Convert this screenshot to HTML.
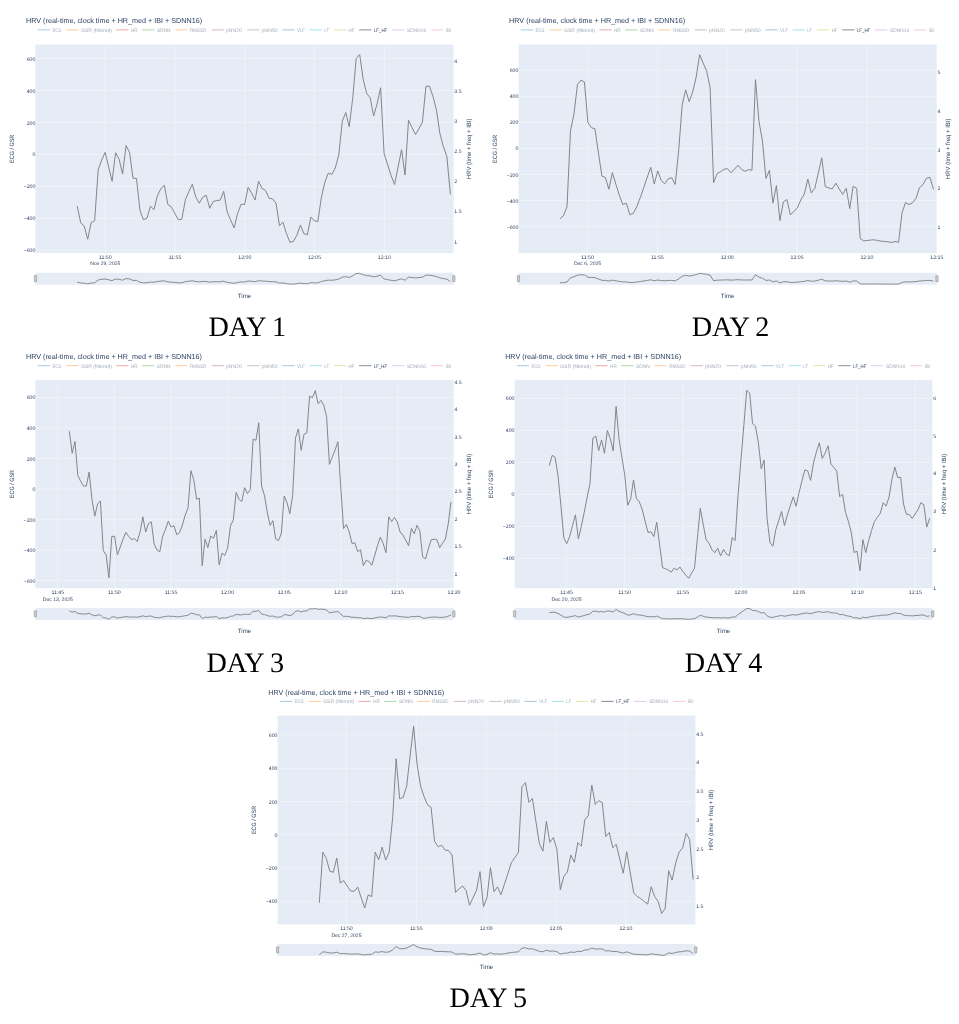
<!DOCTYPE html>
<html lang="en"><head><meta charset="utf-8"><title>HRV Day 1-5</title>
<style>html,body{margin:0;padding:0;background:#fff}body{width:959px;height:1024px;overflow:hidden}svg{display:block}</style></head>
<body>
<svg width="959" height="1024" viewBox="0 0 959 1024" text-rendering="geometricPrecision" font-family='"Liberation Sans", sans-serif' fill="#2a3f5f">
<rect x="0" y="0" width="959" height="1024" fill="#ffffff"/>
<g>
<text x="26.05" y="23" font-size="7.2" textLength="176" lengthAdjust="spacingAndGlyphs">HRV (real-time, clock time + HR_med + IBI + SDNN16)</text>
<line x1="37.8" y1="29.9" x2="50" y2="29.9" stroke="#1f77b4" stroke-width="0.9" opacity="0.45"/>
<text x="52.5" y="31.7" font-size="5" textLength="9" lengthAdjust="spacingAndGlyphs" opacity="0.45">ECG</text>
<line x1="66.55" y1="29.9" x2="78.75" y2="29.9" stroke="#ff7f0e" stroke-width="0.9" opacity="0.45"/>
<text x="81" y="31.7" font-size="5" textLength="31" lengthAdjust="spacingAndGlyphs" opacity="0.45">GSR (filtered)</text>
<line x1="116.3" y1="29.9" x2="128.5" y2="29.9" stroke="#d62728" stroke-width="0.9" opacity="0.45"/>
<text x="131" y="31.7" font-size="5" textLength="6.6" lengthAdjust="spacingAndGlyphs" opacity="0.45">HR</text>
<line x1="142.2" y1="29.9" x2="154.4" y2="29.9" stroke="#2ca02c" stroke-width="0.9" opacity="0.45"/>
<text x="156.9" y="31.7" font-size="5" textLength="13.7" lengthAdjust="spacingAndGlyphs" opacity="0.45">SDNN</text>
<line x1="175.4" y1="29.9" x2="187.6" y2="29.9" stroke="#ff7f0e" stroke-width="0.9" opacity="0.45"/>
<text x="190.1" y="31.7" font-size="5" textLength="16.2" lengthAdjust="spacingAndGlyphs" opacity="0.45">RMSSD</text>
<line x1="211.7" y1="29.9" x2="223.9" y2="29.9" stroke="#8c564b" stroke-width="0.9" opacity="0.45"/>
<text x="226" y="31.7" font-size="5" textLength="15.9" lengthAdjust="spacingAndGlyphs" opacity="0.45">pNN20</text>
<line x1="247.3" y1="29.9" x2="259.5" y2="29.9" stroke="#7f6a66" stroke-width="0.9" opacity="0.45"/>
<text x="261.7" y="31.7" font-size="5" textLength="15.9" lengthAdjust="spacingAndGlyphs" opacity="0.45">pNN50</text>
<line x1="282.4" y1="29.9" x2="294.6" y2="29.9" stroke="#1f77b4" stroke-width="0.9" opacity="0.45"/>
<text x="297" y="31.7" font-size="5" textLength="8" lengthAdjust="spacingAndGlyphs" opacity="0.45">VLF</text>
<line x1="309.6" y1="29.9" x2="321.8" y2="29.9" stroke="#17becf" stroke-width="0.9" opacity="0.45"/>
<text x="324.2" y="31.7" font-size="5" textLength="4.8" lengthAdjust="spacingAndGlyphs" opacity="0.45">LF</text>
<line x1="333.9" y1="29.9" x2="346.1" y2="29.9" stroke="#bcbd22" stroke-width="0.9" opacity="0.45"/>
<text x="348.6" y="31.7" font-size="5" textLength="5.8" lengthAdjust="spacingAndGlyphs" opacity="0.45">HF</text>
<line x1="359.2" y1="29.9" x2="371.4" y2="29.9" stroke="#7f7f7f" stroke-width="0.9" opacity="1"/>
<text x="373.9" y="31.7" font-size="5" textLength="13.3" lengthAdjust="spacingAndGlyphs" opacity="1">LF_HF</text>
<line x1="392" y1="29.9" x2="404.2" y2="29.9" stroke="#b07fd8" stroke-width="0.9" opacity="0.45"/>
<text x="407" y="31.7" font-size="5" textLength="19.1" lengthAdjust="spacingAndGlyphs" opacity="0.45">SDNN16</text>
<line x1="431.1" y1="29.9" x2="443.3" y2="29.9" stroke="#f070b8" stroke-width="0.9" opacity="0.45"/>
<text x="445.8" y="31.7" font-size="5" textLength="5.1" lengthAdjust="spacingAndGlyphs" opacity="0.45">IBI</text>
<rect x="35.45" y="44.5" width="418.1" height="208.65" fill="#e5ecf6"/>
<line x1="35.45" y1="58.5" x2="453.55" y2="58.5" stroke="#fff" stroke-width="0.4"/>
<text x="35.35" y="60.5" font-size="5.2" text-anchor="end">600</text>
<line x1="35.45" y1="90.5" x2="453.55" y2="90.5" stroke="#fff" stroke-width="0.4"/>
<text x="35.35" y="92.5" font-size="5.2" text-anchor="end">400</text>
<line x1="35.45" y1="122.5" x2="453.55" y2="122.5" stroke="#fff" stroke-width="0.4"/>
<text x="35.35" y="124.5" font-size="5.2" text-anchor="end">200</text>
<line x1="35.45" y1="154.4" x2="453.55" y2="154.4" stroke="#fff" stroke-width="0.4"/>
<text x="35.35" y="156.4" font-size="5.2" text-anchor="end">0</text>
<line x1="35.45" y1="186.4" x2="453.55" y2="186.4" stroke="#fff" stroke-width="0.4"/>
<text x="35.35" y="188.4" font-size="5.2" text-anchor="end">−200</text>
<line x1="35.45" y1="218.4" x2="453.55" y2="218.4" stroke="#fff" stroke-width="0.4"/>
<text x="35.35" y="220.4" font-size="5.2" text-anchor="end">−400</text>
<line x1="35.45" y1="250.4" x2="453.55" y2="250.4" stroke="#fff" stroke-width="0.4"/>
<text x="35.35" y="252.4" font-size="5.2" text-anchor="end">−600</text>
<line x1="105.35" y1="44.5" x2="105.35" y2="253.15" stroke="#fff" stroke-width="0.4"/>
<text x="105.35" y="259" font-size="5.2" text-anchor="middle">11:50</text>
<text x="105.35" y="264.9" font-size="5.05" text-anchor="middle">Nov 29, 2025</text>
<line x1="175.1" y1="44.5" x2="175.1" y2="253.15" stroke="#fff" stroke-width="0.4"/>
<text x="175.1" y="259" font-size="5.2" text-anchor="middle">11:55</text>
<line x1="244.85" y1="44.5" x2="244.85" y2="253.15" stroke="#fff" stroke-width="0.4"/>
<text x="244.85" y="259" font-size="5.2" text-anchor="middle">12:00</text>
<line x1="314.6" y1="44.5" x2="314.6" y2="253.15" stroke="#fff" stroke-width="0.4"/>
<text x="314.6" y="259" font-size="5.2" text-anchor="middle">12:05</text>
<line x1="384.35" y1="44.5" x2="384.35" y2="253.15" stroke="#fff" stroke-width="0.4"/>
<text x="384.35" y="259" font-size="5.2" text-anchor="middle">12:10</text>
<text x="454.35" y="62.5" font-size="5.2">4</text>
<text x="454.35" y="93.1" font-size="5.2">3.5</text>
<text x="454.35" y="123.1" font-size="5.2">3</text>
<text x="454.35" y="153.2" font-size="5.2">2.5</text>
<text x="454.35" y="183.3" font-size="5.2">2</text>
<text x="454.35" y="213.4" font-size="5.2">1.5</text>
<text x="454.35" y="243.9" font-size="5.2">1</text>
<text transform="translate(13.9,148.82) rotate(-90)" font-size="6.2" text-anchor="middle" textLength="28.2" lengthAdjust="spacingAndGlyphs">ECG / GSR</text>
<text transform="translate(470.8,148.82) rotate(-90)" font-size="6.2" text-anchor="middle" textLength="60.5" lengthAdjust="spacingAndGlyphs">HRV (time + freq + IBI)</text>
<polyline points="77.23,206.18 80.72,222.86 84.21,225.97 87.69,239.26 91.18,222.59 94.67,220.82 98.16,169.99 101.64,160.09 105.13,152.37 108.62,166.87 112.1,181.24 115.59,152.77 119.08,159.14 122.57,174.06 126.05,145.59 129.54,152.37 133.03,178.12 136.51,178.53 140,210.66 143.49,219.74 146.98,218.11 150.46,206.18 153.95,209.71 157.44,195.75 160.92,188.56 164.41,185.31 167.9,204.56 171.39,207 174.87,213.37 178.36,219.87 181.85,219.2 185.33,199.81 188.82,191.68 192.31,184.22 195.8,197.1 199.28,203.2 202.77,197.1 206.26,195.34 209.74,208.35 213.23,201.57 216.72,200.49 220.21,200.22 223.69,191.27 227.18,212.01 230.67,220.15 234.15,227.87 237.64,213.37 241.13,204.15 244.62,204.56 248.1,187.21 251.59,193.03 255.08,200.08 258.56,181.24 262.05,188.56 265.54,190.32 269.03,198.19 272.51,198.86 276,203.2 279.49,225.57 282.97,222.18 286.46,233.7 289.95,242.24 293.44,241.43 296.92,235.06 300.41,225.16 303.9,233.7 307.38,234.65 310.87,217.03 314.36,220.82 317.85,221.5 321.33,197.78 324.82,182.19 328.31,173.11 331.79,174.46 335.28,167.96 338.77,154.95 342.26,121.33 345.74,112.52 349.23,126.76 352.72,98.29 356.2,58.3 359.69,54.64 363.18,79.31 366.67,93.55 370.15,97.61 373.64,115.91 377.13,103.71 380.61,87.72 384.1,153.46 387.59,164.57 391.07,175.41 394.56,184.49 398.05,167.28 401.54,149.66 405.02,175.01 408.51,120.25 412,127.43 415.48,134.48 418.97,128.79 422.46,122.01 425.95,86.36 429.43,86.09 432.92,96.26 436.41,109.81 439.89,133.53 443.38,146.55 446.87,156.44 450.36,194.39" fill="none" stroke="#7f7f7f" stroke-width="0.95" stroke-linejoin="round"/>
<rect x="35.45" y="272.75" width="418.1" height="12" fill="#e5ecf6"/>
<polyline points="77.23,282.05 80.72,283.01 84.21,283.19 87.69,283.95 91.18,282.99 94.67,282.89 98.16,279.97 101.64,279.4 105.13,278.95 108.62,279.79 112.1,280.61 115.59,278.98 119.08,279.34 122.57,280.2 126.05,278.56 129.54,278.95 133.03,280.43 136.51,280.46 140,282.31 143.49,282.83 146.98,282.73 150.46,282.05 153.95,282.25 157.44,281.45 160.92,281.04 164.41,280.85 167.9,281.96 171.39,282.1 174.87,282.46 178.36,282.84 181.85,282.8 185.33,281.68 188.82,281.21 192.31,280.79 195.8,281.53 199.28,281.88 202.77,281.53 206.26,281.43 209.74,282.17 213.23,281.78 216.72,281.72 220.21,281.71 223.69,281.19 227.18,282.38 230.67,282.85 234.15,283.3 237.64,282.46 241.13,281.93 244.62,281.96 248.1,280.96 251.59,281.29 255.08,281.7 258.56,280.61 262.05,281.04 265.54,281.14 269.03,281.59 272.51,281.63 276,281.88 279.49,283.16 282.97,282.97 286.46,283.63 289.95,284.12 293.44,284.08 296.92,283.71 300.41,283.14 303.9,283.63 307.38,283.69 310.87,282.67 314.36,282.89 317.85,282.93 321.33,281.57 324.82,280.67 328.31,280.15 331.79,280.22 335.28,279.85 338.77,279.1 342.26,277.17 345.74,276.66 349.23,277.48 352.72,275.84 356.2,273.54 359.69,273.33 363.18,274.75 366.67,275.57 370.15,275.8 373.64,276.86 377.13,276.16 380.61,275.24 384.1,279.02 387.59,279.66 391.07,280.28 394.56,280.8 398.05,279.81 401.54,278.8 405.02,280.26 408.51,277.11 412,277.52 415.48,277.92 418.97,277.6 422.46,277.21 425.95,275.16 429.43,275.14 432.92,275.73 436.41,276.51 439.89,277.87 443.38,278.62 446.87,279.19 450.36,281.37" fill="none" stroke="#7f7f7f" stroke-width="0.9" stroke-linejoin="round"/>
<rect x="34.35" y="275.6" width="2.2" height="6.2" rx="0.4" fill="#d4d4d4" stroke="#888" stroke-width="0.6"/>
<rect x="452.75" y="275.6" width="2.2" height="6.2" rx="0.4" fill="#d4d4d4" stroke="#888" stroke-width="0.6"/>
<text x="244.5" y="297.9" font-size="6.2" text-anchor="middle">Time</text>
<text x="208.6" y="335.8" font-family='"Liberation Serif", serif' font-size="28.2" letter-spacing="-0.25" fill="#000">DAY 1</text>
</g>
<g>
<text x="509.1" y="23" font-size="7.2" textLength="176" lengthAdjust="spacingAndGlyphs">HRV (real-time, clock time + HR_med + IBI + SDNN16)</text>
<line x1="520.85" y1="29.9" x2="533.05" y2="29.9" stroke="#1f77b4" stroke-width="0.9" opacity="0.45"/>
<text x="535.55" y="31.7" font-size="5" textLength="9" lengthAdjust="spacingAndGlyphs" opacity="0.45">ECG</text>
<line x1="549.6" y1="29.9" x2="561.8" y2="29.9" stroke="#ff7f0e" stroke-width="0.9" opacity="0.45"/>
<text x="564.05" y="31.7" font-size="5" textLength="31" lengthAdjust="spacingAndGlyphs" opacity="0.45">GSR (filtered)</text>
<line x1="599.35" y1="29.9" x2="611.55" y2="29.9" stroke="#d62728" stroke-width="0.9" opacity="0.45"/>
<text x="614.05" y="31.7" font-size="5" textLength="6.6" lengthAdjust="spacingAndGlyphs" opacity="0.45">HR</text>
<line x1="625.25" y1="29.9" x2="637.45" y2="29.9" stroke="#2ca02c" stroke-width="0.9" opacity="0.45"/>
<text x="639.95" y="31.7" font-size="5" textLength="13.7" lengthAdjust="spacingAndGlyphs" opacity="0.45">SDNN</text>
<line x1="658.45" y1="29.9" x2="670.65" y2="29.9" stroke="#ff7f0e" stroke-width="0.9" opacity="0.45"/>
<text x="673.15" y="31.7" font-size="5" textLength="16.2" lengthAdjust="spacingAndGlyphs" opacity="0.45">RMSSD</text>
<line x1="694.75" y1="29.9" x2="706.95" y2="29.9" stroke="#8c564b" stroke-width="0.9" opacity="0.45"/>
<text x="709.05" y="31.7" font-size="5" textLength="15.9" lengthAdjust="spacingAndGlyphs" opacity="0.45">pNN20</text>
<line x1="730.35" y1="29.9" x2="742.55" y2="29.9" stroke="#7f6a66" stroke-width="0.9" opacity="0.45"/>
<text x="744.75" y="31.7" font-size="5" textLength="15.9" lengthAdjust="spacingAndGlyphs" opacity="0.45">pNN50</text>
<line x1="765.45" y1="29.9" x2="777.65" y2="29.9" stroke="#1f77b4" stroke-width="0.9" opacity="0.45"/>
<text x="780.05" y="31.7" font-size="5" textLength="8" lengthAdjust="spacingAndGlyphs" opacity="0.45">VLF</text>
<line x1="792.65" y1="29.9" x2="804.85" y2="29.9" stroke="#17becf" stroke-width="0.9" opacity="0.45"/>
<text x="807.25" y="31.7" font-size="5" textLength="4.8" lengthAdjust="spacingAndGlyphs" opacity="0.45">LF</text>
<line x1="816.95" y1="29.9" x2="829.15" y2="29.9" stroke="#bcbd22" stroke-width="0.9" opacity="0.45"/>
<text x="831.65" y="31.7" font-size="5" textLength="5.8" lengthAdjust="spacingAndGlyphs" opacity="0.45">HF</text>
<line x1="842.25" y1="29.9" x2="854.45" y2="29.9" stroke="#7f7f7f" stroke-width="0.9" opacity="1"/>
<text x="856.95" y="31.7" font-size="5" textLength="13.3" lengthAdjust="spacingAndGlyphs" opacity="1">LF_HF</text>
<line x1="875.05" y1="29.9" x2="887.25" y2="29.9" stroke="#b07fd8" stroke-width="0.9" opacity="0.45"/>
<text x="890.05" y="31.7" font-size="5" textLength="19.1" lengthAdjust="spacingAndGlyphs" opacity="0.45">SDNN16</text>
<line x1="914.15" y1="29.9" x2="926.35" y2="29.9" stroke="#f070b8" stroke-width="0.9" opacity="0.45"/>
<text x="928.85" y="31.7" font-size="5" textLength="5.1" lengthAdjust="spacingAndGlyphs" opacity="0.45">IBI</text>
<rect x="518.5" y="44.5" width="418.2" height="208.65" fill="#e5ecf6"/>
<line x1="518.5" y1="70.3" x2="936.7" y2="70.3" stroke="#fff" stroke-width="0.4"/>
<text x="518.4" y="72.3" font-size="5.2" text-anchor="end">600</text>
<line x1="518.5" y1="96.3" x2="936.7" y2="96.3" stroke="#fff" stroke-width="0.4"/>
<text x="518.4" y="98.3" font-size="5.2" text-anchor="end">400</text>
<line x1="518.5" y1="122.3" x2="936.7" y2="122.3" stroke="#fff" stroke-width="0.4"/>
<text x="518.4" y="124.3" font-size="5.2" text-anchor="end">200</text>
<line x1="518.5" y1="148.4" x2="936.7" y2="148.4" stroke="#fff" stroke-width="0.4"/>
<text x="518.4" y="150.4" font-size="5.2" text-anchor="end">0</text>
<line x1="518.5" y1="174.5" x2="936.7" y2="174.5" stroke="#fff" stroke-width="0.4"/>
<text x="518.4" y="176.5" font-size="5.2" text-anchor="end">−200</text>
<line x1="518.5" y1="200.6" x2="936.7" y2="200.6" stroke="#fff" stroke-width="0.4"/>
<text x="518.4" y="202.6" font-size="5.2" text-anchor="end">−400</text>
<line x1="518.5" y1="226.7" x2="936.7" y2="226.7" stroke="#fff" stroke-width="0.4"/>
<text x="518.4" y="228.7" font-size="5.2" text-anchor="end">−600</text>
<line x1="587.5" y1="44.5" x2="587.5" y2="253.15" stroke="#fff" stroke-width="0.4"/>
<text x="587.5" y="259" font-size="5.2" text-anchor="middle">11:50</text>
<text x="587.5" y="264.9" font-size="5.05" text-anchor="middle">Dec 6, 2025</text>
<line x1="657.4" y1="44.5" x2="657.4" y2="253.15" stroke="#fff" stroke-width="0.4"/>
<text x="657.4" y="259" font-size="5.2" text-anchor="middle">11:55</text>
<line x1="727.2" y1="44.5" x2="727.2" y2="253.15" stroke="#fff" stroke-width="0.4"/>
<text x="727.2" y="259" font-size="5.2" text-anchor="middle">12:00</text>
<line x1="797.1" y1="44.5" x2="797.1" y2="253.15" stroke="#fff" stroke-width="0.4"/>
<text x="797.1" y="259" font-size="5.2" text-anchor="middle">12:05</text>
<line x1="866.9" y1="44.5" x2="866.9" y2="253.15" stroke="#fff" stroke-width="0.4"/>
<text x="866.9" y="259" font-size="5.2" text-anchor="middle">12:10</text>
<text x="936.8" y="259" font-size="5.2" text-anchor="middle">12:15</text>
<text x="937.5" y="74.3" font-size="5.2">5</text>
<text x="937.5" y="112.9" font-size="5.2">4</text>
<text x="937.5" y="151.5" font-size="5.2">3</text>
<text x="937.5" y="190.2" font-size="5.2">2</text>
<text x="937.5" y="228.8" font-size="5.2">1</text>
<text transform="translate(496.95,148.82) rotate(-90)" font-size="6.2" text-anchor="middle" textLength="28.2" lengthAdjust="spacingAndGlyphs">ECG / GSR</text>
<text transform="translate(949.7,148.82) rotate(-90)" font-size="6.2" text-anchor="middle" textLength="60.5" lengthAdjust="spacingAndGlyphs">HRV (time + freq + IBI)</text>
<polyline points="560.02,218.79 563.51,215.67 567,206.59 570.49,130.82 573.98,113.88 577.47,84.46 580.96,80.13 584.45,82.02 587.94,122.69 591.43,127.71 594.92,128.79 598.41,152.77 601.9,176.09 605.39,177.45 608.88,189.24 612.37,172.7 615.86,184.22 619.35,195.34 622.84,204.56 626.33,203.2 629.82,214.72 633.31,213.37 636.8,206.59 640.29,197.51 643.78,187.61 647.27,177.17 650.76,167.28 654.25,183.95 657.74,170.94 661.23,180.43 664.72,183.82 668.21,178.8 671.71,177.72 675.2,184.49 678.69,150.33 682.18,105.07 685.67,89.89 689.16,101.68 692.65,92.19 696.14,77.28 699.63,54.64 703.12,63.04 706.61,70.91 710.1,87.45 713.59,182.6 717.08,173.65 720.57,171.75 724.06,169.31 727.55,168.63 731.04,172.7 734.53,169.04 738.02,165.25 741.51,169.31 745,171.35 748.49,169.58 751.98,170.26 755.47,79.58 758.96,121.33 762.45,140.99 765.94,178.53 769.43,170.26 772.92,203.2 776.41,185.58 779.9,220.55 783.39,201.85 786.88,199.54 790.37,214.99 793.86,211.33 797.35,207.95 800.84,199.81 804.33,193.98 807.83,179.07 811.32,193.03 814.81,188.29 818.3,173.11 821.79,157.79 825.28,186.66 828.77,187.88 832.26,188.97 835.75,183.14 839.24,188.97 842.73,194.39 846.22,188.29 849.71,208.62 853.2,186.26 856.69,188.29 860.18,238.45 863.67,240.89 867.16,240.48 870.65,240.07 874.14,239.8 877.63,240.48 881.12,241.16 884.61,241.43 888.1,241.84 891.59,242.51 895.08,241.56 898.57,242.24 902.06,212.69 905.55,202.52 909.04,204.56 912.53,202.79 916.02,198.19 919.51,187.61 923,184.63 926.49,178.12 929.98,177.45 933.47,189.37" fill="none" stroke="#7f7f7f" stroke-width="0.95" stroke-linejoin="round"/>
<rect x="518.5" y="272.75" width="418.2" height="12" fill="#e5ecf6"/>
<polyline points="560.02,282.77 563.51,282.59 567,282.07 570.49,277.71 573.98,276.74 577.47,275.05 580.96,274.8 584.45,274.91 587.94,277.25 591.43,277.54 594.92,277.6 598.41,278.98 601.9,280.32 605.39,280.4 608.88,281.07 612.37,280.12 615.86,280.79 619.35,281.43 622.84,281.96 626.33,281.88 629.82,282.54 633.31,282.46 636.8,282.07 640.29,281.55 643.78,280.98 647.27,280.38 650.76,279.81 654.25,280.77 657.74,280.02 661.23,280.57 664.72,280.76 668.21,280.47 671.71,280.41 675.2,280.8 678.69,278.84 682.18,276.23 685.67,275.36 689.16,276.04 692.65,275.49 696.14,274.64 699.63,273.33 703.12,273.82 706.61,274.27 710.1,275.22 713.59,280.69 717.08,280.18 720.57,280.07 724.06,279.93 727.55,279.89 731.04,280.12 734.53,279.91 738.02,279.69 741.51,279.93 745,280.05 748.49,279.94 751.98,279.98 755.47,274.77 758.96,277.17 762.45,278.3 765.94,280.46 769.43,279.98 772.92,281.88 776.41,280.86 779.9,282.88 783.39,281.8 786.88,281.67 790.37,282.56 793.86,282.34 797.35,282.15 800.84,281.68 804.33,281.35 807.83,280.49 811.32,281.29 814.81,281.02 818.3,280.15 821.79,279.27 825.28,280.93 828.77,281 832.26,281.06 835.75,280.72 839.24,281.06 842.73,281.37 846.22,281.02 849.71,282.19 853.2,280.9 856.69,281.02 860.18,283.9 863.67,284.04 867.16,284.02 870.65,284 874.14,283.98 877.63,284.02 881.12,284.06 884.61,284.08 888.1,284.1 891.59,284.14 895.08,284.08 898.57,284.12 902.06,282.42 905.55,281.84 909.04,281.96 912.53,281.85 916.02,281.59 919.51,280.98 923,280.81 926.49,280.43 929.98,280.4 933.47,281.08" fill="none" stroke="#7f7f7f" stroke-width="0.9" stroke-linejoin="round"/>
<rect x="517.4" y="275.6" width="2.2" height="6.2" rx="0.4" fill="#d4d4d4" stroke="#888" stroke-width="0.6"/>
<rect x="935.9" y="275.6" width="2.2" height="6.2" rx="0.4" fill="#d4d4d4" stroke="#888" stroke-width="0.6"/>
<text x="727.6" y="297.9" font-size="6.2" text-anchor="middle">Time</text>
<text x="691.8" y="335.8" font-family='"Liberation Serif", serif' font-size="28.2" letter-spacing="-0.25" fill="#000">DAY 2</text>
</g>
<g>
<text x="26" y="359" font-size="7.2" textLength="176" lengthAdjust="spacingAndGlyphs">HRV (real-time, clock time + HR_med + IBI + SDNN16)</text>
<line x1="37.75" y1="365.7" x2="49.95" y2="365.7" stroke="#1f77b4" stroke-width="0.9" opacity="0.45"/>
<text x="52.45" y="367.5" font-size="5" textLength="9" lengthAdjust="spacingAndGlyphs" opacity="0.45">ECG</text>
<line x1="66.5" y1="365.7" x2="78.7" y2="365.7" stroke="#ff7f0e" stroke-width="0.9" opacity="0.45"/>
<text x="80.95" y="367.5" font-size="5" textLength="31" lengthAdjust="spacingAndGlyphs" opacity="0.45">GSR (filtered)</text>
<line x1="116.25" y1="365.7" x2="128.45" y2="365.7" stroke="#d62728" stroke-width="0.9" opacity="0.45"/>
<text x="130.95" y="367.5" font-size="5" textLength="6.6" lengthAdjust="spacingAndGlyphs" opacity="0.45">HR</text>
<line x1="142.15" y1="365.7" x2="154.35" y2="365.7" stroke="#2ca02c" stroke-width="0.9" opacity="0.45"/>
<text x="156.85" y="367.5" font-size="5" textLength="13.7" lengthAdjust="spacingAndGlyphs" opacity="0.45">SDNN</text>
<line x1="175.35" y1="365.7" x2="187.55" y2="365.7" stroke="#ff7f0e" stroke-width="0.9" opacity="0.45"/>
<text x="190.05" y="367.5" font-size="5" textLength="16.2" lengthAdjust="spacingAndGlyphs" opacity="0.45">RMSSD</text>
<line x1="211.65" y1="365.7" x2="223.85" y2="365.7" stroke="#8c564b" stroke-width="0.9" opacity="0.45"/>
<text x="225.95" y="367.5" font-size="5" textLength="15.9" lengthAdjust="spacingAndGlyphs" opacity="0.45">pNN20</text>
<line x1="247.25" y1="365.7" x2="259.45" y2="365.7" stroke="#7f6a66" stroke-width="0.9" opacity="0.45"/>
<text x="261.65" y="367.5" font-size="5" textLength="15.9" lengthAdjust="spacingAndGlyphs" opacity="0.45">pNN50</text>
<line x1="282.35" y1="365.7" x2="294.55" y2="365.7" stroke="#1f77b4" stroke-width="0.9" opacity="0.45"/>
<text x="296.95" y="367.5" font-size="5" textLength="8" lengthAdjust="spacingAndGlyphs" opacity="0.45">VLF</text>
<line x1="309.55" y1="365.7" x2="321.75" y2="365.7" stroke="#17becf" stroke-width="0.9" opacity="0.45"/>
<text x="324.15" y="367.5" font-size="5" textLength="4.8" lengthAdjust="spacingAndGlyphs" opacity="0.45">LF</text>
<line x1="333.85" y1="365.7" x2="346.05" y2="365.7" stroke="#bcbd22" stroke-width="0.9" opacity="0.45"/>
<text x="348.55" y="367.5" font-size="5" textLength="5.8" lengthAdjust="spacingAndGlyphs" opacity="0.45">HF</text>
<line x1="359.15" y1="365.7" x2="371.35" y2="365.7" stroke="#7f7f7f" stroke-width="0.9" opacity="1"/>
<text x="373.85" y="367.5" font-size="5" textLength="13.3" lengthAdjust="spacingAndGlyphs" opacity="1">LF_HF</text>
<line x1="391.95" y1="365.7" x2="404.15" y2="365.7" stroke="#b07fd8" stroke-width="0.9" opacity="0.45"/>
<text x="406.95" y="367.5" font-size="5" textLength="19.1" lengthAdjust="spacingAndGlyphs" opacity="0.45">SDNN16</text>
<line x1="431.05" y1="365.7" x2="443.25" y2="365.7" stroke="#f070b8" stroke-width="0.9" opacity="0.45"/>
<text x="445.75" y="367.5" font-size="5" textLength="5.1" lengthAdjust="spacingAndGlyphs" opacity="0.45">IBI</text>
<rect x="35.4" y="379.8" width="418.2" height="208.5" fill="#e5ecf6"/>
<line x1="35.4" y1="397.4" x2="453.6" y2="397.4" stroke="#fff" stroke-width="0.4"/>
<text x="35.3" y="399.4" font-size="5.2" text-anchor="end">600</text>
<line x1="35.4" y1="428" x2="453.6" y2="428" stroke="#fff" stroke-width="0.4"/>
<text x="35.3" y="430" font-size="5.2" text-anchor="end">400</text>
<line x1="35.4" y1="458.6" x2="453.6" y2="458.6" stroke="#fff" stroke-width="0.4"/>
<text x="35.3" y="460.6" font-size="5.2" text-anchor="end">200</text>
<line x1="35.4" y1="489.1" x2="453.6" y2="489.1" stroke="#fff" stroke-width="0.4"/>
<text x="35.3" y="491.1" font-size="5.2" text-anchor="end">0</text>
<line x1="35.4" y1="519.7" x2="453.6" y2="519.7" stroke="#fff" stroke-width="0.4"/>
<text x="35.3" y="521.7" font-size="5.2" text-anchor="end">−200</text>
<line x1="35.4" y1="550.2" x2="453.6" y2="550.2" stroke="#fff" stroke-width="0.4"/>
<text x="35.3" y="552.2" font-size="5.2" text-anchor="end">−400</text>
<line x1="35.4" y1="580.6" x2="453.6" y2="580.6" stroke="#fff" stroke-width="0.4"/>
<text x="35.3" y="582.6" font-size="5.2" text-anchor="end">−600</text>
<line x1="57.8" y1="379.8" x2="57.8" y2="588.3" stroke="#fff" stroke-width="0.4"/>
<text x="57.8" y="594.15" font-size="5.2" text-anchor="middle">11:45</text>
<text x="57.8" y="600.7" font-size="5.05" text-anchor="middle">Dec 13, 2025</text>
<line x1="114.4" y1="379.8" x2="114.4" y2="588.3" stroke="#fff" stroke-width="0.4"/>
<text x="114.4" y="594.15" font-size="5.2" text-anchor="middle">11:50</text>
<line x1="171" y1="379.8" x2="171" y2="588.3" stroke="#fff" stroke-width="0.4"/>
<text x="171" y="594.15" font-size="5.2" text-anchor="middle">11:55</text>
<line x1="227.6" y1="379.8" x2="227.6" y2="588.3" stroke="#fff" stroke-width="0.4"/>
<text x="227.6" y="594.15" font-size="5.2" text-anchor="middle">12:00</text>
<line x1="284.2" y1="379.8" x2="284.2" y2="588.3" stroke="#fff" stroke-width="0.4"/>
<text x="284.2" y="594.15" font-size="5.2" text-anchor="middle">12:05</text>
<line x1="340.8" y1="379.8" x2="340.8" y2="588.3" stroke="#fff" stroke-width="0.4"/>
<text x="340.8" y="594.15" font-size="5.2" text-anchor="middle">12:10</text>
<line x1="397.4" y1="379.8" x2="397.4" y2="588.3" stroke="#fff" stroke-width="0.4"/>
<text x="397.4" y="594.15" font-size="5.2" text-anchor="middle">12:15</text>
<text x="454" y="594.15" font-size="5.2" text-anchor="middle">12:20</text>
<text x="454.4" y="383.7" font-size="5.2">4.5</text>
<text x="454.4" y="411.1" font-size="5.2">4</text>
<text x="454.4" y="438.5" font-size="5.2">3.5</text>
<text x="454.4" y="465.9" font-size="5.2">3</text>
<text x="454.4" y="493.3" font-size="5.2">2.5</text>
<text x="454.4" y="520.8" font-size="5.2">2</text>
<text x="454.4" y="548.2" font-size="5.2">1.5</text>
<text x="454.4" y="575.5" font-size="5.2">1</text>
<text transform="translate(13.85,484.05) rotate(-90)" font-size="6.2" text-anchor="middle" textLength="28.2" lengthAdjust="spacingAndGlyphs">ECG / GSR</text>
<text transform="translate(470.85,484.05) rotate(-90)" font-size="6.2" text-anchor="middle" textLength="60.5" lengthAdjust="spacingAndGlyphs">HRV (time + freq + IBI)</text>
<polyline points="69.34,431.17 72.16,453.27 74.99,441.47 77.82,475.49 80.64,481.18 83.47,486.06 86.3,486.06 89.13,472.1 91.95,499.21 94.78,516.16 97.61,503.96 100.43,500.97 103.26,550.72 106.09,554.79 108.91,577.84 111.74,536.49 114.57,536.22 117.4,554.79 120.22,547.06 123.05,539.2 125.88,532.42 128.7,536.49 131.53,539.61 134.36,538.52 137.19,541.51 140.01,532.42 142.84,516.83 145.67,532.02 148.49,523.61 151.32,521.85 154.15,543.95 156.97,550.05 159.8,551.67 162.63,536.49 165.46,529.44 168.28,521.31 171.11,527 173.94,525.65 176.76,534.73 179.59,532.69 182.42,524.97 185.25,515.07 188.07,507.75 190.9,470.74 193.73,479.56 196.55,499.21 199.38,498.13 202.21,565.64 205.03,539.2 207.86,547.61 210.69,536.08 213.52,538.25 216.34,530.39 219.17,564.96 222,553.03 224.82,555.47 227.65,548.01 230.48,525.65 233.31,520.22 236.13,492.43 238.96,499.21 241.79,501.52 244.61,487.69 247.44,493.52 250.27,489.72 253.09,439.03 255.92,440.39 258.75,422.77 261.58,486.33 264.4,495.14 267.23,512.09 270.06,525.37 272.88,520.63 275.71,538.93 278.54,540.56 281.37,533.1 284.19,496.09 287.02,502.6 289.85,513.72 292.67,495.29 295.5,438.09 298.33,428.87 301.15,450.29 303.98,434.29 306.81,432.93 309.64,396.06 312.46,397.69 315.29,390.64 318.12,403.79 320.94,400.4 323.77,405.14 326.6,416.67 329.42,464.38 332.25,457.06 335.08,449.88 337.91,441.75 340.73,486.33 343.56,528.63 346.39,524.56 349.21,531.75 352.04,543.54 354.87,542.86 357.7,551.67 360.52,549.64 363.35,565.64 366.18,560.21 369,561.57 371.83,565.23 374.66,555.47 377.48,545.71 380.31,537.17 383.14,543.27 385.97,552.76 388.79,516.83 391.62,521.58 394.45,517.51 397.27,521.99 400.1,532.02 402.93,535.13 405.76,540.29 408.58,545.71 411.41,528.36 414.24,533.78 417.06,525.24 419.89,531.07 422.72,557.09 425.54,558.86 428.37,548.69 431.2,539.61 434.03,539.2 436.85,539.61 439.68,547.61 442.51,543.27 445.33,539.2 448.16,524.29 450.99,501.92" fill="none" stroke="#7f7f7f" stroke-width="0.95" stroke-linejoin="round"/>
<rect x="35.4" y="607.9" width="418.2" height="12" fill="#e5ecf6"/>
<polyline points="69.34,610.86 72.16,612.13 74.99,611.45 77.82,613.41 80.64,613.73 83.47,614.02 86.3,614.02 89.13,613.21 91.95,614.77 94.78,615.75 97.61,615.05 100.43,614.87 103.26,617.74 106.09,617.97 108.91,619.3 111.74,616.92 114.57,616.9 117.4,617.97 120.22,617.53 123.05,617.07 125.88,616.68 128.7,616.92 131.53,617.1 134.36,617.03 137.19,617.21 140.01,616.68 142.84,615.79 145.67,616.66 148.49,616.18 151.32,616.08 154.15,617.35 156.97,617.7 159.8,617.79 162.63,616.92 165.46,616.51 168.28,616.04 171.11,616.37 173.94,616.29 176.76,616.82 179.59,616.7 182.42,616.26 185.25,615.69 188.07,615.26 190.9,613.13 193.73,613.64 196.55,614.77 199.38,614.71 202.21,618.6 205.03,617.07 207.86,617.56 210.69,616.89 213.52,617.02 216.34,616.57 219.17,618.56 222,617.87 224.82,618.01 227.65,617.58 230.48,616.29 233.31,615.98 236.13,614.38 238.96,614.77 241.79,614.91 244.61,614.11 247.44,614.45 250.27,614.23 253.09,611.31 255.92,611.39 258.75,610.37 261.58,614.03 264.4,614.54 267.23,615.51 270.06,616.28 272.88,616.01 275.71,617.06 278.54,617.15 281.37,616.72 284.19,614.59 287.02,614.97 289.85,615.61 292.67,614.55 295.5,611.25 298.33,610.72 301.15,611.96 303.98,611.04 306.81,610.96 309.64,608.84 312.46,608.93 315.29,608.52 318.12,609.28 320.94,609.09 323.77,609.36 326.6,610.02 329.42,612.77 332.25,612.35 335.08,611.93 337.91,611.47 340.73,614.03 343.56,616.47 346.39,616.23 349.21,616.65 352.04,617.32 354.87,617.28 357.7,617.79 360.52,617.67 363.35,618.6 366.18,618.28 369,618.36 371.83,618.57 374.66,618.01 377.48,617.45 380.31,616.96 383.14,617.31 385.97,617.85 388.79,615.79 391.62,616.06 394.45,615.83 397.27,616.08 400.1,616.66 402.93,616.84 405.76,617.14 408.58,617.45 411.41,616.45 414.24,616.76 417.06,616.27 419.89,616.61 422.72,618.1 425.54,618.21 428.37,617.62 431.2,617.1 434.03,617.07 436.85,617.1 439.68,617.56 442.51,617.31 445.33,617.07 448.16,616.22 450.99,614.93" fill="none" stroke="#7f7f7f" stroke-width="0.9" stroke-linejoin="round"/>
<rect x="34.3" y="610.75" width="2.2" height="6.2" rx="0.4" fill="#d4d4d4" stroke="#888" stroke-width="0.6"/>
<rect x="452.8" y="610.75" width="2.2" height="6.2" rx="0.4" fill="#d4d4d4" stroke="#888" stroke-width="0.6"/>
<text x="244.5" y="633.05" font-size="6.2" text-anchor="middle">Time</text>
<text x="206.6" y="671.65" font-family='"Liberation Serif", serif' font-size="28.2" letter-spacing="-0.25" fill="#000">DAY 3</text>
</g>
<g>
<text x="505.15" y="359" font-size="7.2" textLength="176" lengthAdjust="spacingAndGlyphs">HRV (real-time, clock time + HR_med + IBI + SDNN16)</text>
<line x1="516.9" y1="365.7" x2="529.1" y2="365.7" stroke="#1f77b4" stroke-width="0.9" opacity="0.45"/>
<text x="531.6" y="367.5" font-size="5" textLength="9" lengthAdjust="spacingAndGlyphs" opacity="0.45">ECG</text>
<line x1="545.65" y1="365.7" x2="557.85" y2="365.7" stroke="#ff7f0e" stroke-width="0.9" opacity="0.45"/>
<text x="560.1" y="367.5" font-size="5" textLength="31" lengthAdjust="spacingAndGlyphs" opacity="0.45">GSR (filtered)</text>
<line x1="595.4" y1="365.7" x2="607.6" y2="365.7" stroke="#d62728" stroke-width="0.9" opacity="0.45"/>
<text x="610.1" y="367.5" font-size="5" textLength="6.6" lengthAdjust="spacingAndGlyphs" opacity="0.45">HR</text>
<line x1="621.3" y1="365.7" x2="633.5" y2="365.7" stroke="#2ca02c" stroke-width="0.9" opacity="0.45"/>
<text x="636" y="367.5" font-size="5" textLength="13.7" lengthAdjust="spacingAndGlyphs" opacity="0.45">SDNN</text>
<line x1="654.5" y1="365.7" x2="666.7" y2="365.7" stroke="#ff7f0e" stroke-width="0.9" opacity="0.45"/>
<text x="669.2" y="367.5" font-size="5" textLength="16.2" lengthAdjust="spacingAndGlyphs" opacity="0.45">RMSSD</text>
<line x1="690.8" y1="365.7" x2="703" y2="365.7" stroke="#8c564b" stroke-width="0.9" opacity="0.45"/>
<text x="705.1" y="367.5" font-size="5" textLength="15.9" lengthAdjust="spacingAndGlyphs" opacity="0.45">pNN20</text>
<line x1="726.4" y1="365.7" x2="738.6" y2="365.7" stroke="#7f6a66" stroke-width="0.9" opacity="0.45"/>
<text x="740.8" y="367.5" font-size="5" textLength="15.9" lengthAdjust="spacingAndGlyphs" opacity="0.45">pNN50</text>
<line x1="761.5" y1="365.7" x2="773.7" y2="365.7" stroke="#1f77b4" stroke-width="0.9" opacity="0.45"/>
<text x="776.1" y="367.5" font-size="5" textLength="8" lengthAdjust="spacingAndGlyphs" opacity="0.45">VLF</text>
<line x1="788.7" y1="365.7" x2="800.9" y2="365.7" stroke="#17becf" stroke-width="0.9" opacity="0.45"/>
<text x="803.3" y="367.5" font-size="5" textLength="4.8" lengthAdjust="spacingAndGlyphs" opacity="0.45">LF</text>
<line x1="813" y1="365.7" x2="825.2" y2="365.7" stroke="#bcbd22" stroke-width="0.9" opacity="0.45"/>
<text x="827.7" y="367.5" font-size="5" textLength="5.8" lengthAdjust="spacingAndGlyphs" opacity="0.45">HF</text>
<line x1="838.3" y1="365.7" x2="850.5" y2="365.7" stroke="#7f7f7f" stroke-width="0.9" opacity="1"/>
<text x="853" y="367.5" font-size="5" textLength="13.3" lengthAdjust="spacingAndGlyphs" opacity="1">LF_HF</text>
<line x1="871.1" y1="365.7" x2="883.3" y2="365.7" stroke="#b07fd8" stroke-width="0.9" opacity="0.45"/>
<text x="886.1" y="367.5" font-size="5" textLength="19.1" lengthAdjust="spacingAndGlyphs" opacity="0.45">SDNN16</text>
<line x1="910.2" y1="365.7" x2="922.4" y2="365.7" stroke="#f070b8" stroke-width="0.9" opacity="0.45"/>
<text x="924.9" y="367.5" font-size="5" textLength="5.1" lengthAdjust="spacingAndGlyphs" opacity="0.45">IBI</text>
<rect x="514.55" y="379.8" width="417.85" height="208.5" fill="#e5ecf6"/>
<line x1="514.55" y1="398.4" x2="932.4" y2="398.4" stroke="#fff" stroke-width="0.4"/>
<text x="514.45" y="400.4" font-size="5.2" text-anchor="end">600</text>
<line x1="514.55" y1="430.4" x2="932.4" y2="430.4" stroke="#fff" stroke-width="0.4"/>
<text x="514.45" y="432.4" font-size="5.2" text-anchor="end">400</text>
<line x1="514.55" y1="462.4" x2="932.4" y2="462.4" stroke="#fff" stroke-width="0.4"/>
<text x="514.45" y="464.4" font-size="5.2" text-anchor="end">200</text>
<line x1="514.55" y1="494.4" x2="932.4" y2="494.4" stroke="#fff" stroke-width="0.4"/>
<text x="514.45" y="496.4" font-size="5.2" text-anchor="end">0</text>
<line x1="514.55" y1="526.4" x2="932.4" y2="526.4" stroke="#fff" stroke-width="0.4"/>
<text x="514.45" y="528.4" font-size="5.2" text-anchor="end">−200</text>
<line x1="514.55" y1="558.4" x2="932.4" y2="558.4" stroke="#fff" stroke-width="0.4"/>
<text x="514.45" y="560.4" font-size="5.2" text-anchor="end">−400</text>
<line x1="566.5" y1="379.8" x2="566.5" y2="588.3" stroke="#fff" stroke-width="0.4"/>
<text x="566.5" y="594.15" font-size="5.2" text-anchor="middle">11:45</text>
<text x="566.5" y="600.7" font-size="5.05" text-anchor="middle">Dec 20, 2025</text>
<line x1="624.6" y1="379.8" x2="624.6" y2="588.3" stroke="#fff" stroke-width="0.4"/>
<text x="624.6" y="594.15" font-size="5.2" text-anchor="middle">11:50</text>
<line x1="682.8" y1="379.8" x2="682.8" y2="588.3" stroke="#fff" stroke-width="0.4"/>
<text x="682.8" y="594.15" font-size="5.2" text-anchor="middle">11:55</text>
<line x1="740.9" y1="379.8" x2="740.9" y2="588.3" stroke="#fff" stroke-width="0.4"/>
<text x="740.9" y="594.15" font-size="5.2" text-anchor="middle">12:00</text>
<line x1="799" y1="379.8" x2="799" y2="588.3" stroke="#fff" stroke-width="0.4"/>
<text x="799" y="594.15" font-size="5.2" text-anchor="middle">12:05</text>
<line x1="857.2" y1="379.8" x2="857.2" y2="588.3" stroke="#fff" stroke-width="0.4"/>
<text x="857.2" y="594.15" font-size="5.2" text-anchor="middle">12:10</text>
<line x1="915.3" y1="379.8" x2="915.3" y2="588.3" stroke="#fff" stroke-width="0.4"/>
<text x="915.3" y="594.15" font-size="5.2" text-anchor="middle">12:15</text>
<text x="933.2" y="399.5" font-size="5.2">6</text>
<text x="933.2" y="437.5" font-size="5.2">5</text>
<text x="933.2" y="475.3" font-size="5.2">4</text>
<text x="933.2" y="513.3" font-size="5.2">3</text>
<text x="933.2" y="551.5" font-size="5.2">2</text>
<text x="933.2" y="589.5" font-size="5.2">1</text>
<text transform="translate(493,484.05) rotate(-90)" font-size="6.2" text-anchor="middle" textLength="28.2" lengthAdjust="spacingAndGlyphs">ECG / GSR</text>
<text transform="translate(945.7,484.05) rotate(-90)" font-size="6.2" text-anchor="middle" textLength="60.5" lengthAdjust="spacingAndGlyphs">HRV (time + freq + IBI)</text>
<polyline points="549.31,465.47 552.22,455.3 555.12,457.33 558.02,475.49 560.93,505.99 563.83,537.85 566.73,543.67 569.64,536.49 572.54,525.65 575.44,514.8 578.35,538.93 581.25,526.59 584.15,512.77 587.06,497.86 589.96,483.62 592.86,438.09 595.77,436.05 598.67,450.56 601.57,439.98 604.48,453.27 607.38,430.49 610.28,438.63 613.19,450.83 616.09,406.5 618.99,438.76 621.9,457.33 624.8,475.49 627.7,505.31 630.6,499.21 633.51,479.96 636.41,498.53 639.31,501.92 642.22,509.38 645.12,521.31 648.02,532.42 650.93,531.75 653.83,536.49 656.73,522.26 659.64,544.89 662.54,567.67 665.44,568.75 668.35,570.11 671.25,572.14 674.15,568.08 677.06,570.11 679.96,566.99 682.86,571.46 685.77,575.12 688.67,578.24 691.57,573.09 694.48,568.35 697.38,538.52 700.28,508.29 703.19,524.29 706.09,539.61 708.99,543.27 711.9,549.64 714.8,552.76 717.7,548.28 720.61,555.87 723.51,549.37 726.41,554.11 729.32,555.74 732.22,537.57 735.12,540.56 738.02,495.82 740.93,460.05 743.83,425.48 746.73,390.23 749.64,393.22 752.54,423.45 755.44,426.16 758.35,442.42 761.25,468.86 764.15,460.05 767.06,518.19 769.96,542.59 772.86,546.25 775.77,529.71 778.67,520.9 781.57,511.41 784.48,525.65 787.38,514.8 790.28,505.72 793.19,496.91 796.09,506.26 798.99,492.85 801.9,481.06 804.8,469.94 807.7,470.89 810.61,480.38 813.51,462.76 816.41,451.91 819.32,442.69 822.22,458.42 825.12,453.27 828.03,445.81 830.93,464.06 833.83,467.45 836.73,470.83 839.64,496.59 842.54,494.29 845.44,512.18 848.35,521.26 851.25,532.42 854.15,552.49 857.06,551.13 859.96,570.79 862.86,539.61 865.77,552.76 868.67,540.56 871.57,530.39 874.48,521.58 877.38,517.33 880.28,513.26 883.19,502.69 886.09,506.08 888.99,497.27 891.9,479.65 894.8,467.04 897.7,477.61 900.61,477.21 903.51,504.05 906.41,514.21 909.32,514.48 912.22,518.55 915.12,513.94 918.03,509.47 920.93,502.69 923.83,504.72 926.74,527.09 929.64,518.28" fill="none" stroke="#7f7f7f" stroke-width="0.95" stroke-linejoin="round"/>
<rect x="514.55" y="607.9" width="417.85" height="12" fill="#e5ecf6"/>
<polyline points="549.31,612.83 552.22,612.25 555.12,612.36 558.02,613.41 560.93,615.16 563.83,617 566.73,617.33 569.64,616.92 572.54,616.29 575.44,615.67 578.35,617.06 581.25,616.35 584.15,615.55 587.06,614.69 589.96,613.88 592.86,611.25 595.77,611.14 598.67,611.97 601.57,611.36 604.48,612.13 607.38,610.82 610.28,611.29 613.19,611.99 616.09,609.44 618.99,611.29 621.9,612.36 624.8,613.41 627.7,615.12 630.6,614.77 633.51,613.66 636.41,614.73 639.31,614.93 642.22,615.36 645.12,616.04 648.02,616.68 650.93,616.65 653.83,616.92 656.73,616.1 659.64,617.4 662.54,618.71 665.44,618.77 668.35,618.85 671.25,618.97 674.15,618.74 677.06,618.85 679.96,618.67 682.86,618.93 685.77,619.14 688.67,619.32 691.57,619.02 694.48,618.75 697.38,617.03 700.28,615.3 703.19,616.22 706.09,617.1 708.99,617.31 711.9,617.67 714.8,617.85 717.7,617.6 720.61,618.03 723.51,617.66 726.41,617.93 729.32,618.03 732.22,616.98 735.12,617.15 738.02,614.58 740.93,612.52 743.83,610.53 746.73,608.5 749.64,608.67 752.54,610.41 755.44,610.57 758.35,611.5 761.25,613.03 764.15,612.52 767.06,615.86 769.96,617.27 772.86,617.48 775.77,616.53 778.67,616.02 781.57,615.47 784.48,616.29 787.38,615.67 790.28,615.15 793.19,614.64 796.09,615.18 798.99,614.41 801.9,613.73 804.8,613.09 807.7,613.14 810.61,613.69 813.51,612.67 816.41,612.05 819.32,611.52 822.22,612.42 825.12,612.13 828.03,611.7 830.93,612.75 833.83,612.94 836.73,613.14 839.64,614.62 842.54,614.49 845.44,615.52 848.35,616.04 851.25,616.68 854.15,617.84 857.06,617.76 859.96,618.89 862.86,617.1 865.77,617.85 868.67,617.15 871.57,616.57 874.48,616.06 877.38,615.82 880.28,615.58 883.19,614.97 886.09,615.17 888.99,614.66 891.9,613.65 894.8,612.92 897.7,613.53 900.61,613.51 903.51,615.05 906.41,615.64 909.32,615.65 912.22,615.89 915.12,615.62 918.03,615.36 920.93,614.97 923.83,615.09 926.74,616.38 929.64,615.87" fill="none" stroke="#7f7f7f" stroke-width="0.9" stroke-linejoin="round"/>
<rect x="513.45" y="610.75" width="2.2" height="6.2" rx="0.4" fill="#d4d4d4" stroke="#888" stroke-width="0.6"/>
<rect x="931.6" y="610.75" width="2.2" height="6.2" rx="0.4" fill="#d4d4d4" stroke="#888" stroke-width="0.6"/>
<text x="723.47" y="633.05" font-size="6.2" text-anchor="middle">Time</text>
<text x="684.8" y="671.65" font-family='"Liberation Serif", serif' font-size="28.2" letter-spacing="-0.25" fill="#000">DAY 4</text>
</g>
<g>
<text x="268.2" y="694.8" font-size="7.2" textLength="176" lengthAdjust="spacingAndGlyphs">HRV (real-time, clock time + HR_med + IBI + SDNN16)</text>
<line x1="279.95" y1="701.4" x2="292.15" y2="701.4" stroke="#1f77b4" stroke-width="0.9" opacity="0.45"/>
<text x="294.65" y="702.8" font-size="5" textLength="9" lengthAdjust="spacingAndGlyphs" opacity="0.45">ECG</text>
<line x1="308.7" y1="701.4" x2="320.9" y2="701.4" stroke="#ff7f0e" stroke-width="0.9" opacity="0.45"/>
<text x="323.15" y="702.8" font-size="5" textLength="31" lengthAdjust="spacingAndGlyphs" opacity="0.45">GSR (filtered)</text>
<line x1="358.45" y1="701.4" x2="370.65" y2="701.4" stroke="#d62728" stroke-width="0.9" opacity="0.45"/>
<text x="373.15" y="702.8" font-size="5" textLength="6.6" lengthAdjust="spacingAndGlyphs" opacity="0.45">HR</text>
<line x1="384.35" y1="701.4" x2="396.55" y2="701.4" stroke="#2ca02c" stroke-width="0.9" opacity="0.45"/>
<text x="399.05" y="702.8" font-size="5" textLength="13.7" lengthAdjust="spacingAndGlyphs" opacity="0.45">SDNN</text>
<line x1="417.55" y1="701.4" x2="429.75" y2="701.4" stroke="#ff7f0e" stroke-width="0.9" opacity="0.45"/>
<text x="432.25" y="702.8" font-size="5" textLength="16.2" lengthAdjust="spacingAndGlyphs" opacity="0.45">RMSSD</text>
<line x1="453.85" y1="701.4" x2="466.05" y2="701.4" stroke="#8c564b" stroke-width="0.9" opacity="0.45"/>
<text x="468.15" y="702.8" font-size="5" textLength="15.9" lengthAdjust="spacingAndGlyphs" opacity="0.45">pNN20</text>
<line x1="489.45" y1="701.4" x2="501.65" y2="701.4" stroke="#7f6a66" stroke-width="0.9" opacity="0.45"/>
<text x="503.85" y="702.8" font-size="5" textLength="15.9" lengthAdjust="spacingAndGlyphs" opacity="0.45">pNN50</text>
<line x1="524.55" y1="701.4" x2="536.75" y2="701.4" stroke="#1f77b4" stroke-width="0.9" opacity="0.45"/>
<text x="539.15" y="702.8" font-size="5" textLength="8" lengthAdjust="spacingAndGlyphs" opacity="0.45">VLF</text>
<line x1="551.75" y1="701.4" x2="563.95" y2="701.4" stroke="#17becf" stroke-width="0.9" opacity="0.45"/>
<text x="566.35" y="702.8" font-size="5" textLength="4.8" lengthAdjust="spacingAndGlyphs" opacity="0.45">LF</text>
<line x1="576.05" y1="701.4" x2="588.25" y2="701.4" stroke="#bcbd22" stroke-width="0.9" opacity="0.45"/>
<text x="590.75" y="702.8" font-size="5" textLength="5.8" lengthAdjust="spacingAndGlyphs" opacity="0.45">HF</text>
<line x1="601.35" y1="701.4" x2="613.55" y2="701.4" stroke="#7f7f7f" stroke-width="0.9" opacity="1"/>
<text x="616.05" y="702.8" font-size="5" textLength="13.3" lengthAdjust="spacingAndGlyphs" opacity="1">LF_HF</text>
<line x1="634.15" y1="701.4" x2="646.35" y2="701.4" stroke="#b07fd8" stroke-width="0.9" opacity="0.45"/>
<text x="649.15" y="702.8" font-size="5" textLength="19.1" lengthAdjust="spacingAndGlyphs" opacity="0.45">SDNN16</text>
<line x1="673.25" y1="701.4" x2="685.45" y2="701.4" stroke="#f070b8" stroke-width="0.9" opacity="0.45"/>
<text x="687.95" y="702.8" font-size="5" textLength="5.1" lengthAdjust="spacingAndGlyphs" opacity="0.45">IBI</text>
<rect x="277.6" y="715.6" width="417.9" height="208.8" fill="#e5ecf6"/>
<line x1="277.6" y1="734.8" x2="695.5" y2="734.8" stroke="#fff" stroke-width="0.4"/>
<text x="277.5" y="736.8" font-size="5.2" text-anchor="end">600</text>
<line x1="277.6" y1="768.2" x2="695.5" y2="768.2" stroke="#fff" stroke-width="0.4"/>
<text x="277.5" y="770.2" font-size="5.2" text-anchor="end">400</text>
<line x1="277.6" y1="801.5" x2="695.5" y2="801.5" stroke="#fff" stroke-width="0.4"/>
<text x="277.5" y="803.5" font-size="5.2" text-anchor="end">200</text>
<line x1="277.6" y1="834.7" x2="695.5" y2="834.7" stroke="#fff" stroke-width="0.4"/>
<text x="277.5" y="836.7" font-size="5.2" text-anchor="end">0</text>
<line x1="277.6" y1="868" x2="695.5" y2="868" stroke="#fff" stroke-width="0.4"/>
<text x="277.5" y="870" font-size="5.2" text-anchor="end">−200</text>
<line x1="277.6" y1="901.2" x2="695.5" y2="901.2" stroke="#fff" stroke-width="0.4"/>
<text x="277.5" y="903.2" font-size="5.2" text-anchor="end">−400</text>
<line x1="346.45" y1="715.6" x2="346.45" y2="924.4" stroke="#fff" stroke-width="0.4"/>
<text x="346.45" y="930.25" font-size="5.2" text-anchor="middle">11:50</text>
<text x="346.45" y="936.8" font-size="5.05" text-anchor="middle">Dec 27, 2025</text>
<line x1="416.3" y1="715.6" x2="416.3" y2="924.4" stroke="#fff" stroke-width="0.4"/>
<text x="416.3" y="930.25" font-size="5.2" text-anchor="middle">11:55</text>
<line x1="486.2" y1="715.6" x2="486.2" y2="924.4" stroke="#fff" stroke-width="0.4"/>
<text x="486.2" y="930.25" font-size="5.2" text-anchor="middle">12:00</text>
<line x1="556" y1="715.6" x2="556" y2="924.4" stroke="#fff" stroke-width="0.4"/>
<text x="556" y="930.25" font-size="5.2" text-anchor="middle">12:05</text>
<line x1="625.9" y1="715.6" x2="625.9" y2="924.4" stroke="#fff" stroke-width="0.4"/>
<text x="625.9" y="930.25" font-size="5.2" text-anchor="middle">12:10</text>
<text x="696.3" y="735.7" font-size="5.2">4.5</text>
<text x="696.3" y="764.4" font-size="5.2">4</text>
<text x="696.3" y="793.1" font-size="5.2">3.5</text>
<text x="696.3" y="821.6" font-size="5.2">3</text>
<text x="696.3" y="850.5" font-size="5.2">2.5</text>
<text x="696.3" y="879.3" font-size="5.2">2</text>
<text x="696.3" y="907.8" font-size="5.2">1.5</text>
<text transform="translate(256.05,820) rotate(-90)" font-size="6.2" text-anchor="middle" textLength="28.2" lengthAdjust="spacingAndGlyphs">ECG / GSR</text>
<text transform="translate(712.75,820) rotate(-90)" font-size="6.2" text-anchor="middle" textLength="60.5" lengthAdjust="spacingAndGlyphs">HRV (time + freq + IBI)</text>
<polyline points="319.3,902.75 322.79,852.19 326.29,858.29 329.78,871.17 333.27,872.25 336.77,858.02 340.26,882.96 343.75,880.66 347.25,886.08 350.74,891.09 354.23,891.23 357.73,887.16 361.22,897.87 364.71,908.04 368.21,894.89 371.7,896.65 375.19,852.19 378.69,859.65 382.18,847.17 385.67,860.05 389.17,852.19 392.66,817.62 396.16,758.77 399.65,798.76 403.14,797.4 406.64,786.29 410.13,755.65 413.62,726.23 417.12,764.6 420.61,786.29 424.1,796.72 427.6,804.86 431.09,807.3 434.58,841.24 438.08,846.66 441.57,845.31 445.06,850.05 448.56,850.59 452.05,855.07 455.54,892.35 459.04,888.96 462.53,885.97 466.02,890.31 469.52,905.22 473.01,897.77 476.5,890.31 480,871.61 483.49,906.58 486.99,897.77 490.48,867.67 493.97,891.67 497.47,886.92 500.96,894.65 504.45,884.21 507.95,873.37 511.44,862.52 514.93,857.37 518.43,852.36 521.92,786.77 525.41,782.7 528.91,802.36 532.4,798.56 535.89,821.33 539.39,843.7 542.88,851.16 546.37,821.33 549.87,842.35 553.36,837.6 556.85,849.12 560.35,889.87 563.84,876.18 567.34,872.12 570.83,855.17 574.32,862.36 577.82,842.7 581.31,846.09 584.8,819.66 588.3,815.59 591.79,785.01 595.28,804.39 598.78,800.59 602.27,802.76 605.76,836.6 609.26,832.53 612.75,847.72 616.24,844.33 619.74,858.97 623.23,873.2 626.72,851.78 630.22,872.52 633.71,892.86 637.2,896.52 640.7,898.55 644.19,901.4 647.68,904.11 651.18,886.76 654.67,896.52 658.17,901.67 661.66,913.46 665.15,908.45 668.65,870.76 672.14,880.15 675.63,863.2 679.13,852.09 682.62,848.02 686.11,833.38 689.61,839.48 693.1,879.47" fill="none" stroke="#7f7f7f" stroke-width="0.95" stroke-linejoin="round"/>
<rect x="277.6" y="944" width="417.9" height="12" fill="#e5ecf6"/>
<polyline points="319.3,954.76 322.79,951.85 326.29,952.2 329.78,952.94 333.27,953 336.77,952.19 340.26,953.62 343.75,953.49 347.25,953.8 350.74,954.09 354.23,954.09 357.73,953.86 361.22,954.48 364.71,955.06 368.21,954.3 371.7,954.41 375.19,951.85 378.69,952.28 382.18,951.56 385.67,952.3 389.17,951.85 392.66,949.86 396.16,946.48 399.65,948.78 403.14,948.7 406.64,948.06 410.13,946.3 413.62,944.61 417.12,946.82 420.61,948.06 424.1,948.66 427.6,949.13 431.09,949.27 434.58,951.22 438.08,951.53 441.57,951.45 445.06,951.73 448.56,951.76 452.05,952.02 455.54,954.16 459.04,953.96 462.53,953.79 466.02,954.04 469.52,954.9 473.01,954.47 476.5,954.04 480,952.97 483.49,954.98 486.99,954.47 490.48,952.74 493.97,954.12 497.47,953.85 500.96,954.29 504.45,953.69 507.95,953.07 511.44,952.44 514.93,952.15 518.43,951.86 521.92,948.09 525.41,947.86 528.91,948.99 532.4,948.77 535.89,950.08 539.39,951.36 542.88,951.79 546.37,950.08 549.87,951.28 553.36,951.01 556.85,951.67 560.35,954.02 563.84,953.23 567.34,953 570.83,952.02 574.32,952.43 577.82,951.3 581.31,951.5 584.8,949.98 588.3,949.75 591.79,947.99 595.28,949.1 598.78,948.88 602.27,949.01 605.76,950.95 609.26,950.72 612.75,951.59 616.24,951.4 619.74,952.24 623.23,953.06 626.72,951.83 630.22,953.02 633.71,954.19 637.2,954.4 640.7,954.51 644.19,954.68 647.68,954.83 651.18,953.84 654.67,954.4 658.17,954.69 661.66,955.37 665.15,955.08 668.65,952.92 672.14,953.46 675.63,952.48 679.13,951.84 682.62,951.61 686.11,950.77 689.61,951.12 693.1,953.42" fill="none" stroke="#7f7f7f" stroke-width="0.9" stroke-linejoin="round"/>
<rect x="276.5" y="946.85" width="2.2" height="6.2" rx="0.4" fill="#d4d4d4" stroke="#888" stroke-width="0.6"/>
<rect x="694.7" y="946.85" width="2.2" height="6.2" rx="0.4" fill="#d4d4d4" stroke="#888" stroke-width="0.6"/>
<text x="486.55" y="969.15" font-size="6.2" text-anchor="middle">Time</text>
<text x="449.6" y="1006.85" font-family='"Liberation Serif", serif' font-size="28.2" letter-spacing="-0.25" fill="#000">DAY 5</text>
</g>
</svg>
</body></html>
